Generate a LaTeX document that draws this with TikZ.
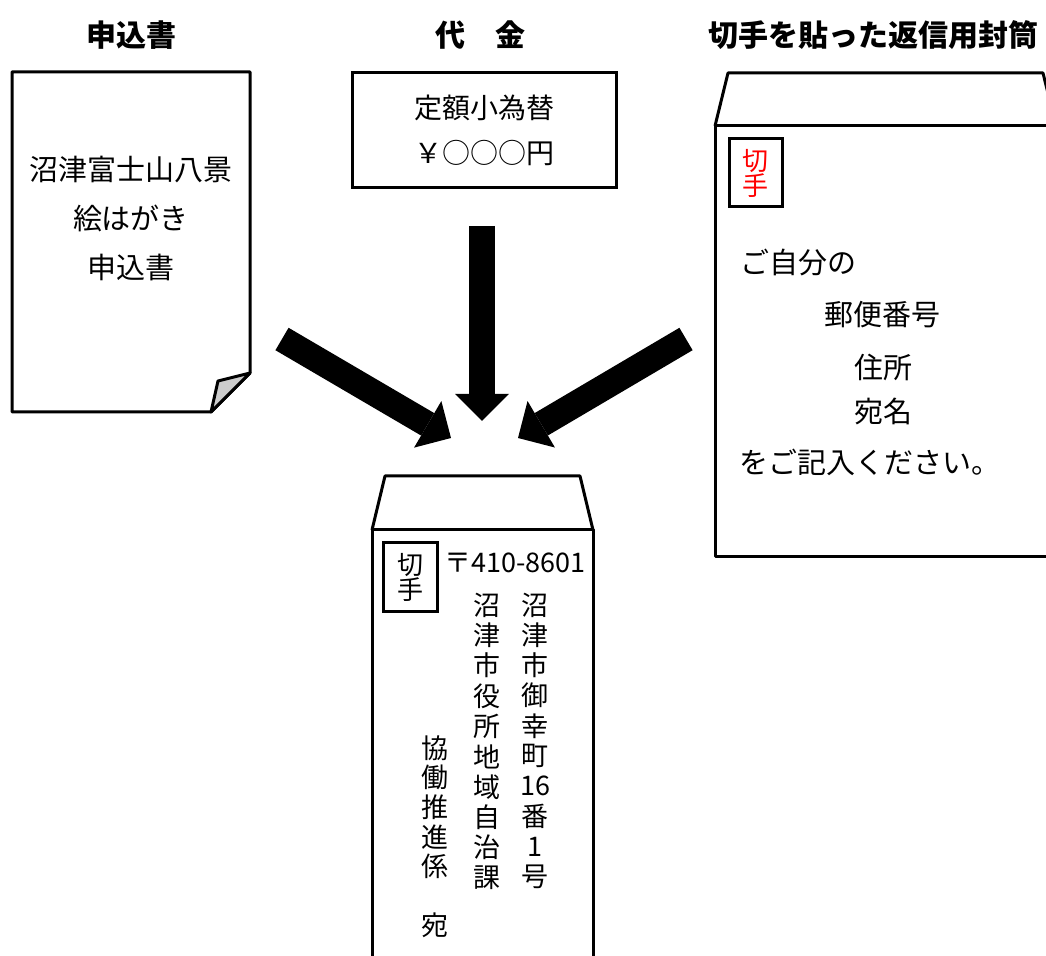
\documentclass[tikz,border=0pt]{standalone}
\usepackage{fontspec}
\setmainfont{Noto Sans CJK JP}
\usetikzlibrary{arrows.meta}

\tikzset{
  outline/.style={line width=1.5pt, line join=round},
  heading/.style={font=\fontsize{15}{18}\selectfont\bfseries},
  body/.style={font=\fontsize{14.5}{24.5}\selectfont, align=center, inner sep=0pt},
  tate/.style={font=\fontsize{13.5}{15}\selectfont, inner sep=0pt},
  stamp/.style={draw, line width=1.5pt, align=center, inner sep=0pt,
    font=\fontsize{13}{12.5}\selectfont},
  bigarrow/.style={line width=13pt,
    -{Triangle[length=13.5pt, width=27pt, line width=0pt]}},
}

\begin{document}
\begin{tikzpicture}[x=0.5pt, y=-0.5pt]
\clip (0,0) rectangle (1046,956);

% headings
\node[heading] (hForm) at (131,35) {申込書};
\node[heading] (hMoney) at (480,35) {代　金};
\node[heading] (hEnv) at (873,35) {切手を貼った返信用封筒};

% application form with folded corner
\draw[outline] (12,72) -- (250,72) -- (250,373) -- (211,412) -- (12,412) -- cycle;
\draw[outline, fill=black!20] (211,412) -- (218,381) -- (250,373) -- cycle;
\node[body] (form) at (131,219) {沼津富士山八景\\絵はがき\\申込書};

% money order
\node[draw, line width=1.5pt, minimum width=132pt, minimum height=57.5pt,
  align=center, font=\fontsize{14}{22.5}\selectfont] (money) at (484,130.5)
  {定額小為替\\￥○○○円};

% return envelope
\draw[outline] (715,126) -- (728,73) -- (1043,73) -- (1056,126);
\draw[outline] (1060,126) -- (715,126) -- (715,557) -- (1060,557);
\node[stamp, text=red, minimum width=26.5pt, minimum height=34pt] (retStamp)
  at (755.5,173) {切\\手};
\node[body, anchor=west] (own) at (740,263) {ご自分の};
\node[body] (zip) at (882,315) {郵便番号};
\node[body] (addr) at (883,367) {住所};
\node[body] (name) at (883,412) {宛名};
\node[body, anchor=west] (fill) at (739,462) {をご記入ください。};

% arrows
\coordinate (fromForm) at (282,339);
\coordinate (toForm) at (451,438);
\coordinate (fromMoney) at (482,226);
\coordinate (toMoney) at (482,421);
\coordinate (fromEnv) at (686,339);
\coordinate (toEnv) at (518,438);
\draw[bigarrow] (fromForm) -- (toForm);
\draw[bigarrow] (fromMoney) -- (toMoney);
\draw[bigarrow] (fromEnv) -- (toEnv);

% envelope to the city office
\draw[outline] (372,530) -- (385,476) -- (580,476) -- (593,530);
\draw[outline] (372,970) -- (372,530) -- (593,530) -- (593,970);
\node[stamp, minimum width=27pt, minimum height=34.5pt] (sendStamp)
  at (410,577.5) {切\\手};
\node[body, anchor=west, font=\fontsize{13.5}{15}\selectfont] (post) at (444,563)
  {〒410-8601};
\foreach \c [count=\i] in {沼,津,市,御,幸,町,16,番,1,号}
  \node[tate] (street-\i) at (535,{605+30.2*(\i-1)}) {\c};
\foreach \c [count=\i] in {沼,津,市,役,所,地,域,自,治,課}
  \node[tate] (office-\i) at (487,{605+30.3*(\i-1)}) {\c};
\foreach \c/\r in {協/0,働/1,推/2,進/3,係/4,宛/6}
  \node[tate] (desk-\r) at (435,{748+29.6*\r}) {\c};
\end{tikzpicture}
\end{document}
